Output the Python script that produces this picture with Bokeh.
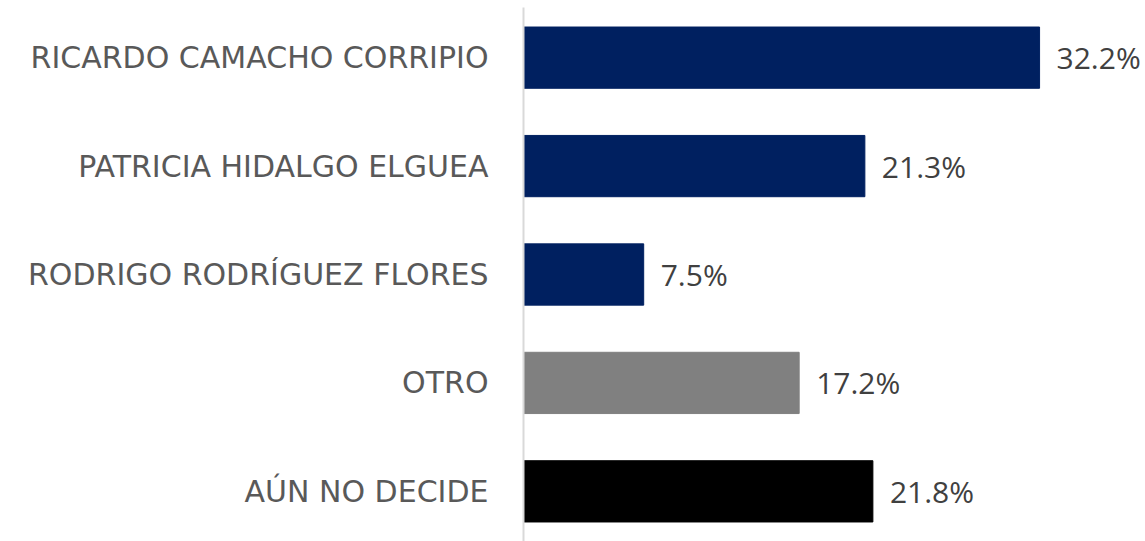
from bokeh.plotting import figure
from bokeh.models import ColumnDataSource, FactorRange, Range1d
from bokeh.embed import file_html
from bokeh.resources import INLINE
from bokeh.core.properties import value

categories = ["RICARDO CAMACHO CORRIPIO", "PATRICIA HIDALGO ELGUEA",
              "RODRIGO RODRÍGUEZ FLORES", "OTRO", "AÚN NO DECIDE"]
values = [32.2, 21.3, 7.5, 17.2, 21.8]
labels = ["32.2%", "21.3%", "7.5%", "17.2%", "21.8%"]
colors = ["#002060", "#002060", "#002060", "#808080", "#000000"]

src = ColumnDataSource(dict(cat=categories, val=values, lab=labels, col=colors))

p = figure(width=1145, height=541, output_backend="svg", toolbar_location=None,
           y_range=FactorRange(factors=list(reversed(categories)), range_padding=-0.015),
           x_range=Range1d(0, 38.81),
           min_border_left=523, min_border_right=0, min_border_top=7, min_border_bottom=0)

p.hbar(y="cat", right="val", left=0, height=0.565, color="col", source=src)
p.text(x="val", y="cat", text="lab", source=src, x_offset=17,
       text_align="left", text_baseline="middle",
       text_font=value("Open Sans"), text_font_size="30px", text_color="#404040")

p.xaxis.visible = False
p.xgrid.visible = False
p.ygrid.visible = False
p.outline_line_color = None
p.yaxis.axis_line_color = "#d9d9d9"
p.yaxis.axis_line_width = 2
p.yaxis.major_tick_line_color = None
p.yaxis.minor_tick_line_color = None
p.yaxis.major_tick_out = 0
p.yaxis.major_tick_in = 0
p.yaxis.major_label_standoff = 35
p.yaxis.major_label_text_font = "DejaVu Sans"
p.yaxis.major_label_text_font_size = "30px"
p.yaxis.major_label_text_color = "#595959"

open("out.html", "w").write(file_html(p, INLINE))
